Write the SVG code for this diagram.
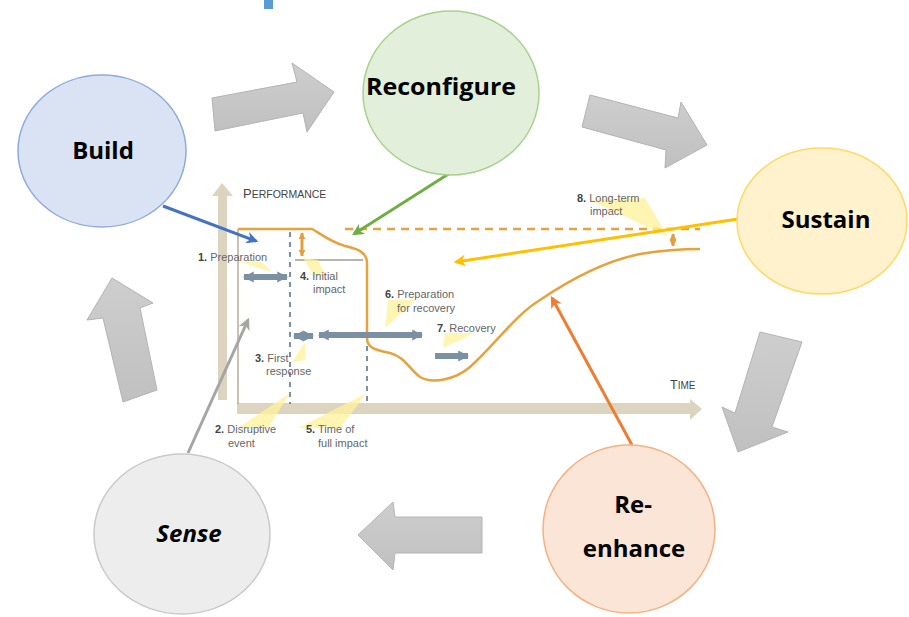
<svg xmlns="http://www.w3.org/2000/svg" width="909" height="617" viewBox="0 0 909 617">
<defs>
<linearGradient id="g" x1="0" y1="0" x2="0" y2="1"><stop offset="0" stop-color="#cecece"/><stop offset="1" stop-color="#c0c0c0"/></linearGradient>
<marker id="mb" viewBox="0 0 10 10" refX="8" refY="5" markerWidth="4" markerHeight="4" orient="auto-start-reverse" markerUnits="strokeWidth"><path d="M0,0 L10,5 L0,10 L3,5 z" fill="#4472c4"/></marker>
<marker id="mg" viewBox="0 0 10 10" refX="8" refY="5" markerWidth="4" markerHeight="4" orient="auto" markerUnits="strokeWidth"><path d="M0,0 L10,5 L0,10 L3,5 z" fill="#70ad47"/></marker>
<marker id="my" viewBox="0 0 10 10" refX="8" refY="5" markerWidth="4" markerHeight="4" orient="auto" markerUnits="strokeWidth"><path d="M0,0 L10,5 L0,10 L3,5 z" fill="#ffc000"/></marker>
<marker id="mo" viewBox="0 0 10 10" refX="8" refY="5" markerWidth="4" markerHeight="4" orient="auto" markerUnits="strokeWidth"><path d="M0,0 L10,5 L0,10 L3,5 z" fill="#ed7d31"/></marker>
<marker id="ma" viewBox="0 0 10 10" refX="8" refY="5" markerWidth="4" markerHeight="4" orient="auto" markerUnits="strokeWidth"><path d="M0,0 L10,5 L0,10 L3,5 z" fill="#a5a5a5"/></marker>
<marker id="ms" viewBox="0 0 10 10" refX="9" refY="5" markerWidth="1.8" markerHeight="2.4" orient="auto-start-reverse" markerUnits="strokeWidth"><path d="M0,0 L10,5 L0,10 z" fill="#7b90a3"/></marker>
<marker id="mh" viewBox="0 0 10 10" refX="9" refY="5" markerWidth="2.4" markerHeight="2.4" orient="auto-start-reverse" markerUnits="strokeWidth"><path d="M0,0 L10,5 L0,10 z" fill="#e0a040"/></marker>
</defs>
<style>
.big{fill:url(#g);stroke:#b3b3b3;stroke-width:1}
.nt{font-family:"Open Sans","Liberation Sans",sans-serif;font-weight:bold;font-size:24px;fill:#000;text-anchor:middle}
.lb{font-family:"Liberation Sans","Open Sans",sans-serif;font-size:11px;fill:#666}
.lb tspan.n{font-weight:bold;fill:#444}
.ax{font-family:"Liberation Sans",sans-serif;fill:#444}
.call{fill:#fff29a;opacity:0.75}
.orng{fill:none;stroke:#e6a23c;stroke-width:2.5}
.dash{stroke:#7b90a3;stroke-width:2;stroke-dasharray:5 5}
.sb{stroke:#7b90a3;stroke-width:6}
.oh{stroke:#e0a040;stroke-width:3}
</style>
<rect x="264" y="0" width="9" height="9" fill="#5b9bd5"/>
<g id="big-arrows">
<polygon class="big" points="212,98 297,82 292,63 334,92 307,132 303,113 215,131"/>
<polygon class="big" points="590,95 678,118 681,102 707,145 665,168 666,150 582,127"/>
<polygon class="big" points="760,332 802,342 772,427 788,432 738,452 722,407 735,413"/>
<polygon class="big" points="358,535 393,502 395,517 482,517 482,553 395,553 393,570"/>
<polygon class="big" points="112,278 153,303 140,308 157,390 123,402 103,318 87,320"/>
</g>
<g id="chart">
<path d="M218,400 L218,196 L212,196 L222,183 L233,196 L227,196 L227,400 z" fill="#ddd4c0"/>
<path d="M237,403 L690,403 L690,399 L702,409 L690,420 L690,414 L237,414 z" fill="#ddd4c0"/>
<line x1="238" y1="229" x2="238" y2="404" stroke="#b9ad95" stroke-width="1.5"/>
<line x1="295" y1="260" x2="363" y2="260" stroke="#a09a90" stroke-width="1.5"/>
<line x1="345" y1="229" x2="700" y2="229" stroke="#e6a23c" stroke-width="2.5" stroke-dasharray="8 6"/>
<path class="orng" d="M238,229 L312,229 C318,232 330,242 345,246 C358,249 366,252 367,262 L367,338 C367,348 375,350 390,353 C405,357 410,370 420,377 C432,384 455,380 470,367 C495,345 515,315 540,300 C565,283 600,262 640,254 C665,250 685,249 700,249"/>
<line class="dash" x1="290" y1="232" x2="290" y2="404"/>
<line class="dash" x1="367" y1="346" x2="367" y2="404"/>
<line class="oh" x1="302" y1="233" x2="302" y2="256" marker-start="url(#mh)" marker-end="url(#mh)"/>
<line class="oh" x1="673" y1="234" x2="673" y2="246" marker-start="url(#mh)" marker-end="url(#mh)"/>
<line class="sb" x1="244" y1="277" x2="287" y2="277" marker-start="url(#ms)" marker-end="url(#ms)"/>
<line class="sb" x1="294" y1="336" x2="313" y2="336" marker-start="url(#ms)" marker-end="url(#ms)"/>
<line class="sb" x1="319" y1="335" x2="422" y2="335" marker-start="url(#ms)" marker-end="url(#ms)"/>
<line class="sb" x1="435" y1="356" x2="468" y2="356" marker-end="url(#ms)"/>
<polygon class="call" points="240,262 262,262 272,272"/>
<polygon class="call" points="303,258 318,260 326,276 314,276"/>
<polygon class="call" points="292,362 305,342 306,360"/>
<polygon class="call" points="238,428 290,393 268,428"/>
<polygon class="call" points="298,428 367,393 340,428"/>
<polygon class="call" points="388,300 415,300 385,328"/>
<polygon class="call" points="445,333 475,333 443,348"/>
<polygon class="call" points="590,200 645,198 668,237"/>
<text class="ax" x="243" y="198"><tspan font-size="13">P</tspan><tspan font-size="10.5">ERFORMANCE</tspan></text>
<text class="ax" x="670" y="389"><tspan font-size="12.5">T</tspan><tspan font-size="10">IME</tspan></text>
<text class="lb" x="198" y="261"><tspan class="n">1.</tspan> Preparation</text>
<text class="lb" x="300" y="280"><tspan class="n">4.</tspan> Initial</text>
<text class="lb" x="313" y="293">impact</text>
<text class="lb" x="255" y="362"><tspan class="n">3.</tspan> First</text>
<text class="lb" x="266" y="375">response</text>
<text class="lb" x="215" y="433"><tspan class="n">2.</tspan> Disruptive</text>
<text class="lb" x="228" y="447">event</text>
<text class="lb" x="306" y="433"><tspan class="n">5.</tspan> Time of</text>
<text class="lb" x="318" y="447">full impact</text>
<text class="lb" x="385" y="298"><tspan class="n">6.</tspan> Preparation</text>
<text class="lb" x="397" y="312">for recovery</text>
<text class="lb" x="437" y="332"><tspan class="n">7.</tspan> Recovery</text>
<text class="lb" x="577" y="202"><tspan class="n">8.</tspan> Long-term</text>
<text class="lb" x="590" y="215">impact</text>
</g>
<g id="connectors" fill="none" stroke-width="3">
<line x1="163" y1="206" x2="256" y2="241" stroke="#4472c4" marker-end="url(#mb)"/>
<line x1="450" y1="173" x2="354" y2="234" stroke="#70ad47" marker-end="url(#mg)"/>
<line x1="738" y1="219" x2="456" y2="262" stroke="#ffc000" marker-end="url(#my)"/>
<line x1="632" y1="445" x2="552" y2="298" stroke="#ed7d31" marker-end="url(#mo)"/>
<line x1="188" y1="453" x2="248" y2="320" stroke="#a5a5a5" marker-end="url(#ma)"/>
</g>
<g id="build"><ellipse cx="102" cy="151" rx="84" ry="76" fill="#dae3f3" stroke="#8faadc" stroke-width="1.5"/><text class="nt" x="103" y="159">Build</text></g>
<g id="reconfigure"><ellipse cx="451" cy="93" rx="88" ry="82" fill="#e2efda" stroke="#a9d18e" stroke-width="1.5"/><text class="nt" x="441" y="95" textLength="150" lengthAdjust="spacingAndGlyphs">Reconfigure</text></g>
<g id="sustain"><ellipse cx="822" cy="221" rx="85" ry="73" fill="#fff2cc" stroke="#ffd966" stroke-width="1.5"/><text class="nt" x="826" y="228">Sustain</text></g>
<g id="reenhance"><ellipse cx="629" cy="529" rx="86" ry="84" fill="#fbe5d6" stroke="#f4b183" stroke-width="1.5"/><text class="nt" x="633" y="513">Re-</text><text class="nt" x="634" y="557">enhance</text></g>
<g id="sense"><ellipse cx="182" cy="534" rx="88" ry="80" fill="#ededed" stroke="#c9c9c9" stroke-width="1.5"/><text class="nt" x="189" y="542" font-style="italic">Sense</text></g>
</svg>
